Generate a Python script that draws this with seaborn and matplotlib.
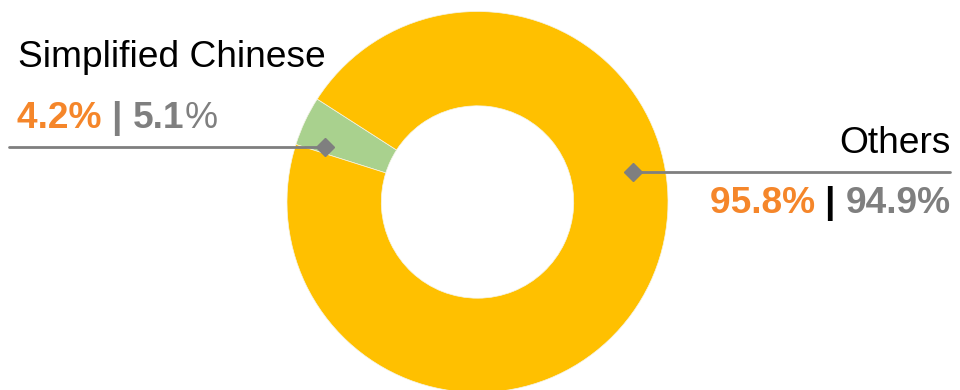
import matplotlib
matplotlib.use("Agg")
import matplotlib.pyplot as plt
import seaborn as sns

categories = ["Simplified Chinese", "Others"]
share_a = [4.2, 95.8]
share_b = [5.1, 94.9]
colors = ["#A9D18E", "#FFC000"]
ORANGE = "#F5862A"
GRAY = "#7F7F7F"

sns.set_theme(style="white")
plt.rcParams['font.family'] = ['Liberation Sans', 'DejaVu Sans']

fig = plt.figure(figsize=(9.6, 3.9), dpi=100)
ax = fig.add_axes([0, 0, 1, 1])
ax.set_xlim(0, 960)
ax.set_ylim(0, 390)
ax.set_aspect('equal')
ax.axis('off')

cx, cy, R = 477.5, 188, 190.5
wedges, _ = ax.pie(share_a, colors=colors, startangle=147.3, counterclock=True,
                   center=(cx, cy), radius=R, frame=True,
                   wedgeprops=dict(width=R * 0.495, edgecolor='#F4F4E8', linewidth=0.5))
ax.set_xlim(0, 960)
ax.set_ylim(0, 390)
ax.axis('off')

# leader lines
ax.plot([9, 325], [243, 243], color=GRAY, lw=2, zorder=5)
ax.plot([325], [243], marker='D', color=GRAY, ms=9, zorder=6)
ax.plot([633, 950], [218, 218], color=GRAY, lw=2, zorder=5)
ax.plot([633], [218], marker='D', color=GRAY, ms=9, zorder=6)

FS = 26.7
ax.text(18, 390 - 67, categories[0], fontsize=FS, color='black', ha='left', va='baseline')
ax.text(951, 390 - 153, categories[1], fontsize=FS, color='black', ha='right', va='baseline')

fig.canvas.draw()
renderer = fig.canvas.get_renderer()
inv = ax.transData.inverted()

def row_left(x, y, parts):
    for s, c, w in parts:
        t = ax.text(x, y, s, fontsize=FS, color=c, fontweight=w, ha='left', va='baseline')
        bb = t.get_window_extent(renderer)
        x = inv.transform((bb.x1, bb.y0))[0]

def row_right(x, y, parts):
    for s, c, w in reversed(parts):
        t = ax.text(x, y, s, fontsize=FS, color=c, fontweight=w, ha='right', va='baseline')
        bb = t.get_window_extent(renderer)
        x = inv.transform((bb.x0, bb.y0))[0]

row_left(17, 390 - 128, [
    (f"{share_a[0]}% ", ORANGE, 'bold'),
    ("| ", GRAY, 'bold'),
    (f"{share_b[0]}", GRAY, 'bold'),
    ("%", GRAY, 'normal'),
])
row_right(951, 390 - 213, [
    (f"{share_a[1]}% ", ORANGE, 'bold'),
    ("| ", 'black', 'bold'),
    (f"{share_b[1]}%", GRAY, 'bold'),
])

fig.savefig("out.png", dpi=100)
